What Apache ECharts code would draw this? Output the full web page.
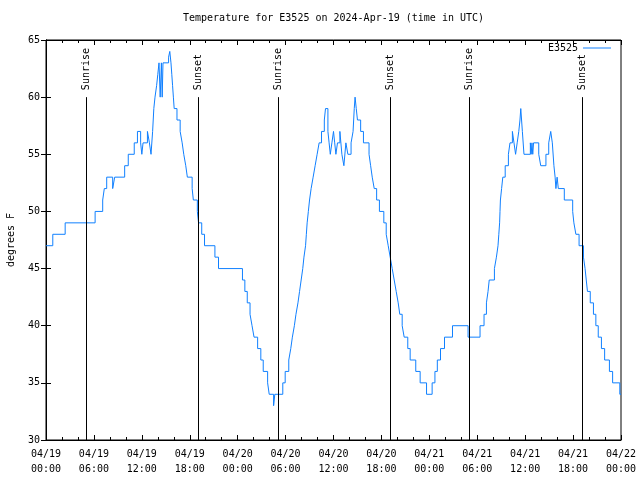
<!DOCTYPE html>
<html>
<head>
<meta charset="utf-8">
<script src="https://cdn.jsdelivr.net/npm/echarts@6/dist/echarts.min.js"></script>
<style>html,body{margin:0;padding:0;background:#fff}#chart{width:640px;height:480px}</style>
</head>
<body>
<div id="chart"></div>
<script>
// Hours since 2024-04-19 00:00 UTC at which each reading begins
const timeHours = [
  0, 0.85, 2.4, 6.15, 7.1, 7.3, 7.6, 8.35, 8.6, 9.85,
  10.3, 11.05, 11.45, 11.85, 12.0, 12.15, 12.7, 12.95, 13.15, 13.35,
  13.5, 13.65, 13.85, 14.0, 14.15, 14.3, 14.45, 14.55, 14.65, 15.35,
  15.5, 15.65, 15.75, 15.85, 15.95, 16.05, 16.4, 16.8, 17.05, 17.25,
  17.5, 17.7, 18.3, 18.45, 18.95, 19.1, 19.5, 19.85, 21.15, 21.6,
  24.6, 24.9, 25.2, 25.55, 25.8, 26.05, 26.5, 26.9, 27.2, 27.75,
  27.95, 28.5, 28.65, 29.65, 29.95, 30.4, 30.65, 30.85, 31.1, 31.3,
  31.55, 31.75, 31.95, 32.15, 32.3, 32.5, 32.6, 32.7, 32.85, 33.0,
  33.2, 33.45, 33.7, 33.95, 34.2, 34.5, 34.85, 35.0, 35.3, 35.45,
  35.6, 35.8, 36.0, 36.15, 36.3, 36.5, 36.8, 37.05, 37.3, 37.55,
  37.8, 38.2, 38.45, 38.6, 38.7, 38.85, 39.0, 39.4, 39.75, 40.45,
  40.65, 40.85, 41.1, 41.4, 41.75, 42.3, 42.6, 42.85, 43.1, 43.35,
  43.6, 43.85, 44.1, 44.3, 44.6, 44.85, 45.3, 45.6, 46.3, 46.85,
  47.65, 48.35, 48.7, 49.0, 49.4, 49.9, 50.9, 52.85, 54.35, 54.85,
  55.15, 55.35, 55.5, 56.15, 56.4, 56.6, 56.7, 56.8, 56.85, 56.9,
  57.05, 57.2, 57.5, 57.9, 58.1, 58.4, 58.6, 58.8, 59.0, 59.2,
  59.35, 59.45, 59.65, 59.85, 60.65, 60.75, 60.85, 60.95, 61.05, 61.7,
  61.95, 62.6, 62.95, 63.2, 63.4, 63.6, 63.75, 63.85, 64.0, 64.15,
  64.9, 65.95, 66.1, 66.35, 66.75, 67.3, 67.5, 67.65, 67.8, 68.15,
  68.55, 68.85, 69.15, 69.55, 69.95, 70.55, 70.95, 71.85, 72
];
// Temperature readings, degrees F
const tempF = [
  47, 48, 49, 50, 51, 52, 53, 52, 53, 54,
  55, 56, 57, 56, 55, 56, 57, 56, 55, 57,
  59, 60, 61, 62, 63, 60, 63, 60, 63, 63.5,
  64, 63, 62, 61, 60, 59, 58, 57, 56, 55,
  54, 53, 52, 51, 50, 49, 48, 47, 46, 45,
  44, 43, 42, 41, 40, 39, 38, 37, 36, 35,
  34, 33, 34, 35, 36, 37, 38, 39, 40, 41,
  42, 43, 44, 45, 46, 47, 48, 49, 50, 51,
  52, 53, 54, 55, 56, 57, 58, 59, 57, 56,
  55, 56, 57, 56, 55, 56, 57, 55, 54, 56,
  55, 56, 57, 59, 60, 59, 58, 57, 56, 55,
  54, 53, 52, 51, 50, 49, 48, 47, 46, 45,
  44, 43, 42, 41, 40, 39, 38, 37, 36, 35,
  34, 35, 36, 37, 38, 39, 40, 39, 40, 41,
  42, 43, 44, 45, 46, 47, 48, 49, 50, 51,
  52, 53, 54, 55, 56, 57, 56, 55, 56, 57,
  58, 59, 57, 55, 56, 55, 56, 55, 56, 55,
  54, 55, 56, 57, 56, 54, 53, 52, 53, 52,
  51, 50, 49, 48, 47, 46, 45, 44, 43, 42,
  41, 40, 39, 38, 37, 36, 35, 34, 34
];
const sunriseHours = [5.0, 29.07, 53.02];
const sunsetHours = [19.05, 43.1, 67.15];
const xTickLabels = [
  '04/19\n00:00', '04/19\n06:00', '04/19\n12:00', '04/19\n18:00',
  '04/20\n00:00', '04/20\n06:00', '04/20\n12:00', '04/20\n18:00',
  '04/21\n00:00', '04/21\n06:00', '04/21\n12:00', '04/21\n18:00',
  '04/22\n00:00'
];
const seriesName = 'E3525';
const titleText = 'Temperature for E3525 on 2024-Apr-19 (time in UTC)';

const FONT = '"DejaVu Sans Mono", "Liberation Mono", monospace';
const LINE_COLOR = '#1080ff';
const X_MIN = 0, X_MAX = 72, X_STEP = 6;
const Y_MIN = 30, Y_MAX = 65, Y_STEP = 5;
const EVENT_LINE_TOP = 60;

const data = timeHours.map((h, i) => [h, tempF[i]]);

const markData = [];
function addEvent(h, name) {
  markData.push([
    { coord: [h, Y_MIN], lineStyle: { color: '#000', width: 1, type: 'solid' }, label: { show: false } },
    { coord: [h, EVENT_LINE_TOP] }
  ]);
  markData.push([
    { coord: [h, EVENT_LINE_TOP], lineStyle: { color: 'rgba(0,0,0,0)', width: 1 },
      label: { show: true, formatter: name, position: 'insideStart', distance: [7, 0], opacity: 1,
               color: '#000', fontFamily: FONT, fontSize: 10 } },
    { coord: [h, Y_MAX] }
  ]);
}
sunriseHours.forEach(h => addEvent(h, 'Sunrise'));
sunsetHours.forEach(h => addEvent(h, 'Sunset'));

const axisCommon = {
  axisLine: { show: true, lineStyle: { color: '#000', width: 1 } },
  splitLine: { show: false }
};

const chart = echarts.init(document.getElementById('chart'), null, { renderer: 'canvas' });
chart.setOption({
  animation: false,
  backgroundColor: '#fff',
  textStyle: { fontFamily: FONT },
  title: {
    text: titleText,
    left: 183, top: 13, padding: 0,
    textStyle: { fontFamily: FONT, fontSize: 10, fontWeight: 'normal', color: '#000' }
  },
  legend: {
    data: [{ name: seriesName, icon: 'rect' }],
    right: 29, top: 43, padding: 0,
    align: 'right',
    itemWidth: 28, itemHeight: 1,
    textStyle: { fontFamily: FONT, fontSize: 10, color: '#000' }
  },
  grid: { left: 46, right: 19, top: 40, bottom: 40, show: true, borderColor: '#000', borderWidth: 1,
          containLabel: false, outerBoundsMode: 'none' },
  xAxis: [
    Object.assign({}, axisCommon, {
      type: 'value', min: X_MIN, max: X_MAX, interval: X_STEP, position: 'bottom',
      axisTick: { show: true, inside: true, length: 5, lineStyle: { color: '#000' } },
      minorTick: { show: true, splitNumber: 3, length: 3, lineStyle: { color: '#000' } },
      axisLabel: { formatter: v => xTickLabels[Math.round((v - X_MIN) / X_STEP)], color: '#000',
                   fontFamily: FONT, fontSize: 10, margin: 7, lineHeight: 15, showMinLabel: true, showMaxLabel: true }
    }),
    Object.assign({}, axisCommon, {
      type: 'value', min: X_MIN, max: X_MAX, interval: X_STEP, position: 'top',
      axisTick: { show: true, inside: true, length: 5, lineStyle: { color: '#000' } },
      minorTick: { show: true, splitNumber: 3, length: 3, lineStyle: { color: '#000' } },
      axisLabel: { show: false }
    })
  ],
  yAxis: [
    Object.assign({}, axisCommon, {
      type: 'value', min: Y_MIN, max: Y_MAX, interval: Y_STEP, position: 'left',
      name: 'degrees F', nameLocation: 'middle', nameGap: 30, nameRotate: 90,
      nameTextStyle: { fontFamily: FONT, fontSize: 10, color: '#000' },
      axisTick: { show: true, inside: true, length: 5, lineStyle: { color: '#000' } },
      axisLabel: { color: '#000', fontFamily: FONT, fontSize: 10, margin: 6 }
    }),
    Object.assign({}, axisCommon, {
      type: 'value', min: Y_MIN, max: Y_MAX, interval: Y_STEP, position: 'right',
      axisTick: { show: true, inside: true, length: 5, lineStyle: { color: '#000' } },
      axisLabel: { show: false }
    })
  ],
  series: [{
    name: seriesName,
    type: 'line',
    xAxisIndex: 0, yAxisIndex: 0,
    data: data,
    step: 'end',
    symbol: 'none',
    showSymbol: false,
    clip: true,
    lineStyle: { color: LINE_COLOR, width: 1 },
    itemStyle: { color: LINE_COLOR },
    emphasis: { disabled: true },
    markLine: {
      silent: true,
      animation: false,
      symbol: ['none', 'none'],
      lineStyle: { color: '#000', width: 1, type: 'solid' },
      label: { show: false },
      emphasis: { disabled: true },
      data: markData
    }
  }]
});
</script>
</body>
</html>
